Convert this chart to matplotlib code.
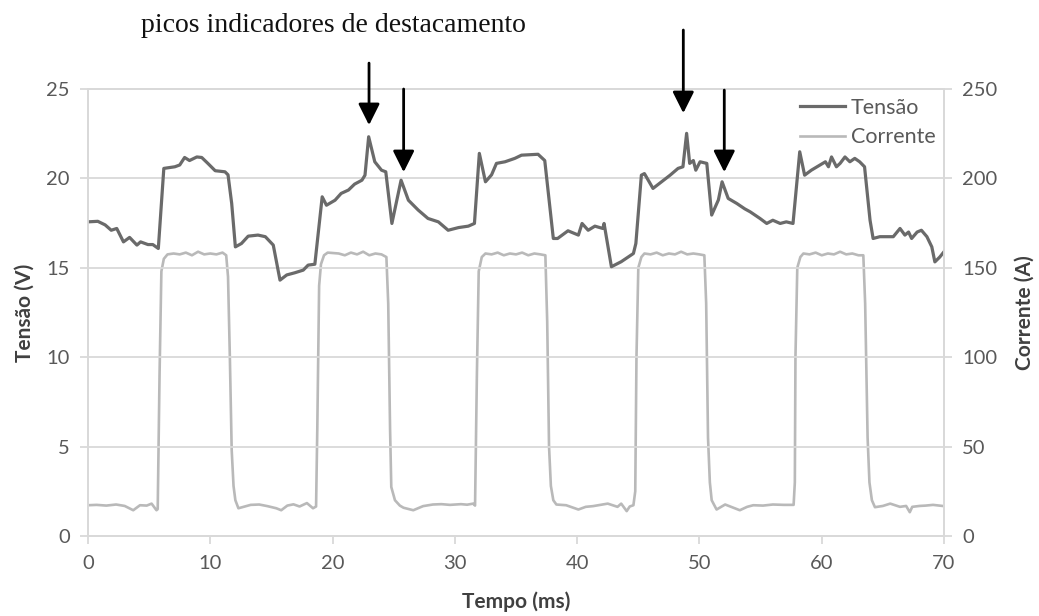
import numpy as np
import matplotlib
matplotlib.use("Agg")
import matplotlib.pyplot as plt

# dados (tempo em ms)
tensao_t = [0.0, 0.8, 1.4, 1.9, 2.35, 2.9, 3.4, 4.0, 4.3, 4.9, 5.3, 5.75, 6.2, 7.1, 7.5, 7.9,
            8.3, 8.9, 9.3, 9.8, 10.4, 11.2, 11.45, 11.75, 12.05, 12.55, 13.1, 13.9, 14.5, 15.15,
            15.7, 16.25, 16.9, 17.6, 18.0, 18.55, 19.15, 19.5, 20.2, 20.7, 21.3, 21.8, 22.4,
            22.65, 22.95, 23.45, 24.0, 24.35, 24.85, 25.6, 26.2, 27.0, 27.8, 28.65, 29.45, 30.3,
            31.1, 31.6, 32.0, 32.5, 33.0, 33.4, 34.1, 34.9, 35.45, 36.8, 37.35, 38.05, 38.4,
            39.25, 40.1, 40.4, 40.9, 41.45, 42.1, 42.2, 42.8, 43.6, 44.6, 44.8, 45.25, 45.5,
            46.2, 46.9, 47.6, 48.25, 48.65, 48.95, 49.2, 49.5, 49.7, 50.05, 50.6, 51.0, 51.55,
            51.85, 52.35, 53.05, 53.7, 54.15, 54.95, 55.5, 56.0, 56.6, 57.1, 57.65, 58.2, 58.6,
            59.15, 59.85, 60.3, 60.55, 60.8, 61.2, 61.5, 61.9, 62.3, 62.7, 63.1, 63.5, 63.95,
            64.2, 64.75, 65.85, 66.4, 66.8, 67.1, 67.35, 67.8, 68.15, 68.6, 69.0, 69.25, 69.65,
            70.0]
tensao_v = [17.57, 17.6, 17.4, 17.1, 17.2, 16.45, 16.7, 16.27, 16.45, 16.3, 16.3, 16.08, 20.56,
            20.65, 20.75, 21.17, 21.0, 21.2, 21.17, 20.84, 20.43, 20.37, 20.2, 18.6, 16.17, 16.36,
            16.77, 16.83, 16.74, 16.27, 14.31, 14.6, 14.72, 14.87, 15.15, 15.2, 18.97, 18.5,
            18.78, 19.16, 19.35, 19.68, 19.9, 20.18, 22.33, 20.93, 20.46, 20.37, 17.48, 19.9,
            18.78, 18.23, 17.76, 17.57, 17.1, 17.25, 17.33, 17.48, 21.4, 19.81, 20.2, 20.84,
            20.93, 21.12, 21.3, 21.35, 21.0, 16.64, 16.64, 17.07, 16.83, 17.48, 17.1, 17.33,
            17.2, 17.48, 15.06, 15.34, 15.8, 16.36, 20.18, 20.27, 19.44, 19.81, 20.18, 20.56,
            20.65, 22.52, 20.84, 21.0, 20.46, 20.93, 20.84, 17.95, 18.8, 19.81, 18.88, 18.6,
            18.3, 18.13, 17.76, 17.48, 17.66, 17.48, 17.57, 17.48, 21.49, 20.18, 20.46, 20.75,
            20.93, 20.65, 21.2, 20.65, 20.84, 21.2, 20.93, 21.12, 20.93, 20.65, 17.66, 16.64,
            16.74, 16.74, 17.2, 16.83, 17.0, 16.64, 17.0, 17.1, 16.74, 16.17, 15.33, 15.6, 15.9]

corrente_t = [0.0, 0.7, 1.5, 2.3, 3.0, 3.7, 4.25, 4.8, 5.2, 5.6, 5.7, 5.85, 6.0, 6.2, 6.5,
              7.0, 7.5, 8.0, 8.5, 9.0, 9.5, 10.0, 10.5, 11.0, 11.3, 11.45, 11.6, 11.75, 11.9,
              12.05, 12.3, 13.3, 14.0, 14.67, 15.4, 15.8, 16.3, 16.8, 17.3, 17.9, 18.4, 18.65,
              18.75, 18.9, 19.05, 19.3, 19.6, 20.5, 21.0, 21.5, 22.0, 22.5, 23.0, 23.5, 24.0,
              24.4, 24.55, 24.7, 24.8, 25.1, 25.5, 25.8, 26.6, 27.4, 28.2, 28.9, 29.6, 30.5,
              31.0, 31.5, 31.65, 31.8, 31.95, 32.2, 32.5, 33.0, 33.5, 34.0, 34.5, 35.0, 35.5,
              36.0, 36.5, 37.0, 37.4, 37.55, 37.7, 37.85, 38.05, 38.3, 39.1, 39.6, 40.1, 40.7,
              41.3, 41.9, 42.5, 43.0, 43.3, 43.6, 44.05, 44.3, 44.6, 44.75, 44.85, 45.0, 45.25,
              45.5, 46.0, 46.5, 47.0, 47.5, 48.0, 48.5, 49.0, 49.5, 50.0, 50.4, 50.55, 50.7,
              50.85, 51.0, 51.4, 52.1, 52.7, 53.3, 53.9, 54.4, 55.2, 56.0, 56.9, 57.7, 57.8,
              57.85, 58.0, 58.25, 58.5, 59.0, 59.5, 60.0, 60.5, 61.0, 61.5, 62.0, 62.5, 63.0,
              63.4, 63.55, 63.75, 63.9, 64.1, 64.35, 65.0, 65.6, 66.0, 66.4, 66.9, 67.2, 67.4,
              68.0, 68.5, 69.1, 69.6, 70.0]
corrente_a = [17.2, 17.4, 17.0, 17.6, 16.8, 14.4, 17.2, 17.0, 18.1, 14.4, 15.0, 90, 148, 155,
              157.5, 158, 157.5, 158.5, 157, 159, 157.5, 158, 157.5, 158.5, 157, 145, 100, 48,
              28, 20, 15.5, 17.4, 17.6, 16.7, 15.5, 14.4, 17.0, 17.7, 16.5, 18.4, 15.5, 16.5,
              60, 140, 152, 157, 158.5, 158, 157, 158.5, 157.5, 159, 157, 158, 157.5, 156, 130,
              60, 27.4, 20, 17, 15.8, 14.4, 16.7, 17.6, 17.8, 17.4, 17.8, 17.5, 18.1, 17, 90,
              148, 156, 158, 157.5, 158.5, 157, 158, 157.5, 158.5, 157, 158, 157.5, 157, 120,
              50, 28, 20, 17.6, 17.2, 16.0, 14.8, 16.3, 16.7, 17.4, 18.1, 17.0, 16.3, 18.1,
              13.9, 16.5, 17.2, 25, 100, 150, 156, 158, 157.5, 158.5, 157, 158, 157.5, 159,
              157.5, 158, 157.5, 157, 130, 55, 30, 20, 14.8, 17.6, 16.0, 14.4, 16.3, 17.2, 17.0,
              17.6, 17.4, 17.4, 30, 100, 150, 156, 158, 157.5, 158.5, 157, 158, 157.5, 159,
              157.5, 158, 157, 157, 130, 55, 30, 20, 16.1, 16.8, 18.1, 17.2, 16.3, 16.8, 13.3,
              16.3, 16.8, 17.0, 17.4, 17.0, 16.7]

x_ticks = [0, 10, 20, 30, 40, 50, 60, 70]
y_ticks = [0, 5, 10, 15, 20, 25]
y2_ticks = [0, 50, 100, 150, 200, 250]

cinza_txt = "#595959"
cinza_grade = "#d9d9d9"
plt.rcParams['font.family'] = ['Lato', 'DejaVu Sans']

fig = plt.figure(figsize=(10.39, 6.16), dpi=100)
ax = fig.add_axes([0.0847, 0.1299, 0.8239, 0.7256])
ax2 = ax.twinx()

ax.set_xlim(0, 70)
ax.set_ylim(0, 25)
ax2.set_ylim(0, 250)

linha_c, = ax2.plot(corrente_t, corrente_a, color="#b9b9b9", lw=1.9, label="Corrente")
linha_t, = ax.plot(tensao_t, tensao_v, color="#6a6a6a", lw=2.3, label="Tensão")
ax.set_zorder(ax2.get_zorder() + 1)
ax.patch.set_visible(False)

ax.set_xticks(x_ticks)
ax.set_yticks(y_ticks)
ax2.set_yticks(y2_ticks)
ax.yaxis.grid(True, color=cinza_grade, lw=1.3)
ax.set_axisbelow(True)

for a in (ax, ax2):
    for s in a.spines.values():
        s.set_color(cinza_grade)
        s.set_linewidth(1.3)
    a.tick_params(colors=cinza_grade, labelcolor=cinza_txt, labelsize=14.5, width=1.3, length=6)
ax.tick_params(axis='y', pad=7)
ax.tick_params(axis='x', pad=8)
ax2.tick_params(axis='y', pad=7)

ax.set_xlabel("Tempo (ms)", fontsize=15, fontweight='bold', color="#404040", va='center')
ax.xaxis.set_label_coords(0.5, -0.148)
ax.set_ylabel("Tensão (V)", fontsize=15, fontweight='bold', color="#404040", va='center')
ax.yaxis.set_label_coords(-0.074, 0.5)
ax2.set_ylabel("Corrente (A)", fontsize=15, fontweight='bold', color="#404040", va='center',
               rotation=90)
ax2.yaxis.set_label_coords(1.094, 0.5)

leg = ax.legend(handles=[linha_t, linha_c], loc='upper right', bbox_to_anchor=(1.0, 1.0),
                frameon=False, fontsize=15.5, handlelength=2.1, handletextpad=0.25,
                labelspacing=0.45, borderaxespad=0.0)
for txt in leg.get_texts():
    txt.set_color(cinza_txt)

# setas indicando os picos (x, ponta, inicio)
setas = [(22.98, 22.98, 26.45), (25.81, 20.35, 25.0), (48.68, 23.65, 28.3), (52.03, 20.35, 24.94)]
for x, y0, y1 in setas:
    ax.annotate("", xy=(x, y0), xytext=(x, y1), annotation_clip=False,
                arrowprops=dict(arrowstyle="-|>,head_length=1.3,head_width=0.65",
                                color="black", lw=2, shrinkA=0, shrinkB=0))

fig.text(0.3205, 0.958, "picos indicadores de destacamento", family="Liberation Serif",
         fontsize=20, ha='center', va='center', color="#111111")

fig.savefig("out.png", dpi=100)
